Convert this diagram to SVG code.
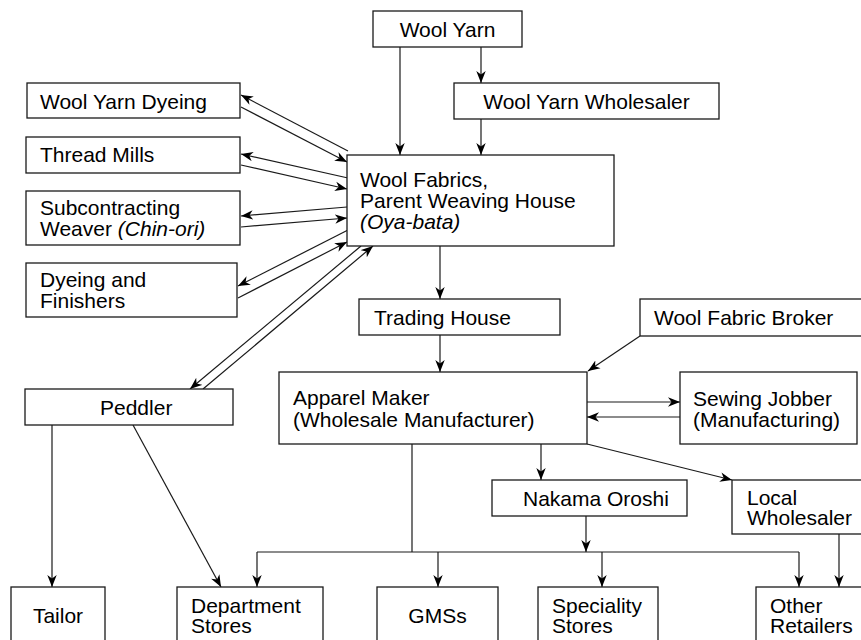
<svg xmlns="http://www.w3.org/2000/svg" width="861" height="640" viewBox="0 0 861 640">
<style>
rect.box{fill:#fff;stroke:#1a1a1a;stroke-width:1.3}
text{font-family:"Liberation Sans",Arial,sans-serif;font-size:21px;fill:#000}
.it{font-style:italic}
#connectors line,#connectors polyline{stroke:#1a1a1a;stroke-width:1.2;fill:none}
.a{marker-end:url(#arr)}
</style>
<defs>
<marker id="arr" markerUnits="userSpaceOnUse" markerWidth="14" markerHeight="12" refX="12" refY="5" orient="auto">
<path d="M0,0.3 L12,5 L0,9.7 L3.5,5 Z" fill="#000"/>
</marker>
</defs>
<rect width="861" height="640" fill="#fff"/>
<g id="connectors">
<line class="a" x1="400" y1="47" x2="400" y2="155"/>
<line class="a" x1="481" y1="47" x2="481" y2="83"/>
<line class="a" x1="481" y1="119" x2="481" y2="155"/>
<line class="a" x1="348" y1="151" x2="241" y2="95"/>
<line class="a" x1="241" y1="107" x2="347" y2="162"/>
<line class="a" x1="348" y1="178" x2="241" y2="154"/>
<line class="a" x1="241" y1="165" x2="347" y2="189"/>
<line class="a" x1="347" y1="207" x2="241" y2="216"/>
<line class="a" x1="241" y1="227" x2="347" y2="218"/>
<line class="a" x1="348" y1="230" x2="238" y2="286"/>
<line class="a" x1="238" y1="298" x2="347" y2="242"/>
<line class="a" x1="361" y1="246" x2="190" y2="389"/>
<line class="a" x1="203" y1="389" x2="373" y2="246"/>
<line class="a" x1="440" y1="246" x2="440" y2="299"/>
<line class="a" x1="440" y1="335" x2="440" y2="372"/>
<line class="a" x1="640" y1="336" x2="588" y2="371"/>
<line class="a" x1="587" y1="402" x2="680" y2="402"/>
<line class="a" x1="680" y1="417" x2="587" y2="417"/>
<line class="a" x1="541" y1="444" x2="541" y2="480"/>
<line class="a" x1="587" y1="444" x2="732" y2="480"/>
<line class="a" x1="586" y1="516" x2="586" y2="552"/>
<line x1="412" y1="444" x2="412" y2="552"/>
<line x1="257" y1="552" x2="799" y2="552"/>
<line class="a" x1="257" y1="552" x2="257" y2="587"/>
<line class="a" x1="438" y1="552" x2="438" y2="587"/>
<line class="a" x1="602" y1="552" x2="602" y2="587"/>
<line class="a" x1="799" y1="552" x2="799" y2="587"/>
<line class="a" x1="839" y1="534" x2="839" y2="587"/>
<line class="a" x1="52" y1="425" x2="52" y2="587"/>
<line class="a" x1="133" y1="425" x2="221" y2="587"/>
</g>
<g id="wool-yarn"><rect class="box" x="373" y="11" width="149" height="36"/><text x="447.5" y="37" text-anchor="middle">Wool Yarn</text></g>
<g id="wool-yarn-dyeing"><rect class="box" x="27" y="83" width="213" height="35"/><text x="40" y="109">Wool Yarn Dyeing</text></g>
<g id="wool-yarn-wholesaler"><rect class="box" x="454" y="83" width="265" height="36"/><text x="586.5" y="109" text-anchor="middle">Wool Yarn Wholesaler</text></g>
<g id="thread-mills"><rect class="box" x="26" y="137" width="214" height="36"/><text x="40" y="162">Thread Mills</text></g>
<g id="wool-fabrics"><rect class="box" x="347" y="155" width="267" height="91"/><text x="360" y="187">Wool Fabrics,</text><text x="360" y="208">Parent Weaving House</text><text x="360" y="229" class="it">(Oya-bata)</text></g>
<g id="subcontracting"><rect class="box" x="26" y="191" width="214" height="54"/><text x="40" y="215">Subcontracting</text><text x="40" y="236">Weaver <tspan class="it">(Chin-ori)</tspan></text></g>
<g id="dyeing-finishers"><rect class="box" x="26" y="263" width="211" height="54"/><text x="40" y="287">Dyeing and</text><text x="40" y="308">Finishers</text></g>
<g id="trading-house"><rect class="box" x="359" y="299" width="201" height="36"/><text x="374" y="325">Trading House</text></g>
<g id="wool-fabric-broker"><rect class="box" x="640" y="299" width="235" height="37"/><text x="654" y="325">Wool Fabric Broker</text></g>
<g id="peddler"><rect class="box" x="25" y="389" width="208" height="36"/><text x="100" y="415">Peddler</text></g>
<g id="apparel-maker"><rect class="box" x="279" y="372" width="308" height="72"/><text x="293" y="405">Apparel Maker</text><text x="293" y="427">(Wholesale Manufacturer)</text></g>
<g id="sewing-jobber"><rect class="box" x="680" y="372" width="177" height="72"/><text x="693" y="406">Sewing Jobber</text><text x="693" y="427">(Manufacturing)</text></g>
<g id="nakama-oroshi"><rect class="box" x="492" y="480" width="195" height="36"/><text x="523" y="506">Nakama Oroshi</text></g>
<g id="local-wholesaler"><rect class="box" x="732" y="480" width="140" height="54"/><text x="747" y="505">Local</text><text x="747" y="525">Wholesaler</text></g>
<g id="tailor"><rect class="box" x="11" y="587" width="94" height="70"/><text x="58" y="623" text-anchor="middle">Tailor</text></g>
<g id="department-stores"><rect class="box" x="177" y="587" width="146" height="70"/><text x="191" y="613">Department</text><text x="191" y="633">Stores</text></g>
<g id="gmss"><rect class="box" x="377" y="587" width="121" height="70"/><text x="437.5" y="623" text-anchor="middle">GMSs</text></g>
<g id="speciality-stores"><rect class="box" x="538" y="587" width="120" height="70"/><text x="552" y="613">Speciality</text><text x="552" y="633">Stores</text></g>
<g id="other-retailers"><rect class="box" x="756" y="587" width="120" height="70"/><text x="770" y="613">Other</text><text x="770" y="633">Retailers</text></g>
</svg>
